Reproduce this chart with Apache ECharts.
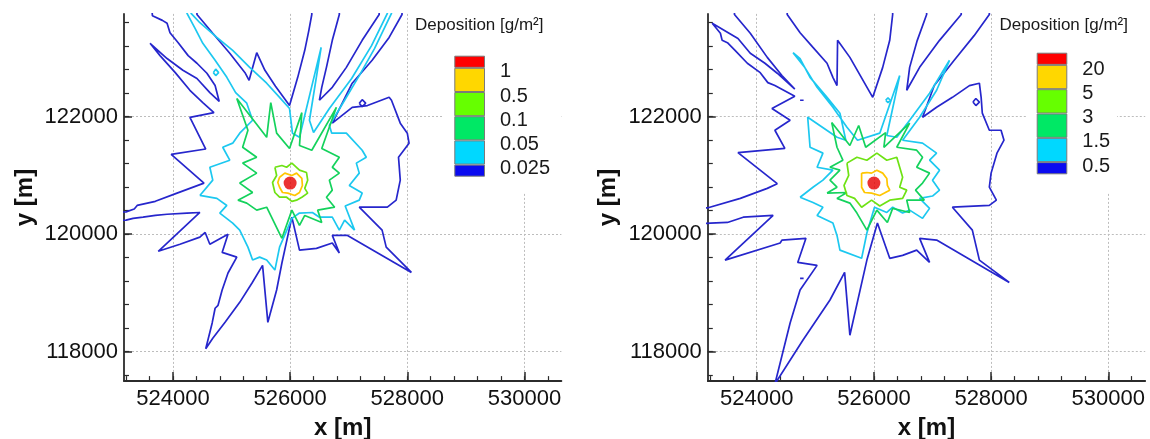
<!DOCTYPE html>
<html>
<head>
<meta charset="utf-8">
<script src="https://cdn.jsdelivr.net/npm/echarts@6/dist/echarts.min.js"></script>
<style>
html, body { margin: 0; padding: 0; background: #fff; }
#chart { width: 1150px; height: 439px; }
</style>
</head>
<body>
<div id="chart"></div>
<script>
// ---- axes ----
const X_RANGE = [523165, 530630];
const Y_RANGE = [117500, 123750];
const xMajorTicks = [524000, 526000, 528000, 530000];
const yMajorTicks = [118000, 120000, 122000];
const xMinorTicks = [523200, 523600, 524000, 524400, 524800, 525200, 525600, 526000, 526400,
  526800, 527200, 527600, 528000, 528400, 528800, 529200, 529600, 530000, 530400];
const yMinorTicks = [117600, 118000, 118400, 118800, 119200, 119600, 120000, 120400, 120800,
  121200, 121600, 122000, 122400, 122800, 123200, 123600];

// ---- colour scale (bands listed bottom to top) ----
const bandColors = ['#0a0af0', '#00d8ff', '#00e865', '#66ff00', '#ffd700', '#ff0000'];
const bandSizes = [0.5, 1, 1, 1, 1, 0.5];
const leftLevels = ['0.025', '0.05', '0.1', '0.5', '1'];
const rightLevels = ['0.5', '1.5', '3', '5', '20'];
const legendTitle = 'Deposition [g/m\u00b2]';

// ---- release point ----
const leftSource = [[526000, 120870]];
const rightSource = [[526000, 120870]];

// ---- left map: contour lines [x, y] in metres ----
const leftBlue = [
  [522930,120370],[523200,120380],[523340,120430],[523390,120490],[523700,120560],[524070,120700],[524530,120870],
  [523970,121360],[524560,121450],[524290,121990],[524700,122070],
  [524510,122240],[524290,122450],[524040,122750],[523780,123040],[523610,123250],
  [523900,122990],[524170,122790],[524410,122650],[524630,122410],[524790,122260],
  [524720,122530],[524580,122740],[524410,122910],[524260,123040],[524090,123260],[523950,123430],[523900,123590],[523820,123640],[523650,123720],[523610,124200],
  [524410,124200],[524410,123740],[524680,123420],[524970,123080],[525230,122750],[525300,122620],[525430,123090],[525570,122790],[525750,122520],[525990,122190],
  [526130,122670],[526250,123130],[526320,123470],[526370,123740],[526370,124200],
  [526840,124200],[526840,123740],[526720,123300],[526620,122840],[526540,122500],[526500,122280],
  [526720,122500],[526960,122840],[527230,123300],[527520,123740],[527520,124200],
  [527910,124200],[527910,123740],[527690,123350],[527400,122960],[527060,122570],[526720,121890],
  [527060,122160],[527320,122190],[527690,122330],[527730,122280],[527880,121890],[528000,121720],[528030,121550],[527850,121310],[527880,120920],[527810,120580],[527660,120460],[527180,120460],
  [527570,120070],[527640,119780],[528070,119350],
  [526980,119980],[526720,119980],[526840,119680],[526720,119850],[526450,119760],[526160,119730],[526030,120290],
  [525860,119510],[525770,119050],[525620,118500],[525530,119470],[525350,119170],[525140,118840],[524890,118500],[524680,118230],[524560,118050],
  [524670,118490],[524720,118740],[524770,118790],[524840,119050],[524940,119340],[525090,119610],
  [524840,119690],[524940,120000],[524630,119830],[524550,120030],[524460,119950],[524120,119830],[523750,119710],
  [524460,120370],[524240,120360],[523900,120340],[523700,120320],[523490,120290],[523320,120270],[523200,120240],[522930,120230]
];
const leftBlueIsland = [[527180,122230],[527230,122290],[527290,122230],[527230,122170],[527180,122230]];
const leftCyan = [
  [524460,120660],[524680,120920],[524630,121140],[524970,121260],[524850,121480],[525020,121550],[525140,121720],
  [525360,121940],[525260,122230],[525070,122410],[524920,122670],[524720,122960],[524510,123250],[524380,123500],
  [524240,123760],[524240,124200],[524310,124200],[524310,123760],[524460,123600],[524750,123350],[525020,123130],
  [525310,122840],[525600,122570],[525820,122330],[525990,122140],[526040,121720],[526160,121650],[526530,123180],
  [526330,121940],[526400,121730],[526670,122140],[527050,122650],[527390,123210],[527660,123760],[527660,124200],
  [527730,124200],[527730,123760],[527440,123160],[527180,122700],[526930,122280],[526670,121850],[526710,121720],
  [526960,121720],[527230,121430],[527300,121310],[527130,121210],[527180,121040],[527010,120830],[527230,120700],
  [527180,120580],[526940,120480],[527100,120070],[526930,120240],[526840,120070],[526720,120290],[526500,120290],
  [526380,120370],[526160,120360],[526030,120270],[525820,119780],[525740,119390],[525600,119560],[525480,119610],
  [525360,119560],[525280,119780],[525140,120070],[525020,120190],[524800,120360],[524920,120490],[524750,120610],
  [524460,120660]
];
const leftCyanIsland = [[524690,122750],[524730,122810],[524780,122750],[524730,122700],[524690,122750]];
const leftGreen = [
  [525860,119930],[525600,120460],[525430,120410],[525260,120530],[525110,120580],[525360,120710],[525140,120870],
  [525430,121040],[525190,121210],[525430,121310],[525190,121480],[525280,121770],[525090,122310],[525600,121650],
  [525670,122240],[525770,121720],[525990,121460],[526200,122070],[526160,121510],[526370,121430],[526790,122160],
  [526540,121460],[526840,121310],[526720,121140],[526840,121040],[526670,120920],[526720,120750],[526620,120630],
  [526760,120460],[526470,120410],[526540,120200],[526250,120320],[526160,120150],[526030,120410],[525860,119930]
];
const leftLime = [
  [525740,121140],[525860,121170],[525940,121140],[526030,121210],[526160,121090],[526280,121050],[526300,120920],
  [526250,120780],[526300,120700],[526200,120630],[526110,120580],[526030,120560],[525940,120630],[525820,120630],
  [525740,120710],[525700,120880],[525770,121000],[525740,121140]
];
const leftYellow = [
  [525820,120970],[525910,121040],[526030,121000],[526110,121040],[526200,120950],[526210,120830],[526160,120710],
  [526080,120660],[525960,120700],[525870,120710],[525820,120800],[525790,120880],[525820,120970]
];

// ---- right map: contour lines [x, y] in metres ----
const rightBlue = [
  [522870,120450],[523170,120450],[523720,120610],[524180,120780],[524350,120860],
  [523680,121390],[524480,121460],[524310,121770],[524570,121940],[524260,122140],[524650,122350],
  [524310,122530],[524190,122580],[524060,122750],[523840,122910],[523630,123130],[523500,123260],[523410,123300],[523380,123420],[523240,123590],
  [523680,123330],[523890,123080],[524140,122910],[524350,122740],[524650,122470],
  [524430,122700],[524180,123010],[523890,123420],[523620,123740],[523620,124200],
  [524520,124200],[524520,123740],[524740,123430],[524960,123180],[525200,122910],[525300,122670],[525370,122530],[525380,123300],[525590,123010],[525980,122330],
  [526150,122840],[526270,123300],[526320,123740],[526320,124200],
  [526900,124200],[526900,123740],[526740,123300],[526610,122840],[526560,122450],[526780,122840],[527120,123300],[527490,123740],[527490,124200],
  [527970,124200],[527970,123740],[527710,123380],[527370,122960],[527030,122530],[526830,121990],
  [527070,122160],[527340,122330],[527630,122530],[527800,122570],[527830,122330],[527850,122060],[527970,121770],[528170,121770],[528220,121600],[528100,121380],[528000,121040],[527970,120800],[528090,120580],[527970,120490],[527340,120460],
  [527680,120070],[527800,119560],[528310,119180],
  [527070,119900],[526780,119930],[526950,119520],[526730,119730],[526490,119640],[526270,119590],[526060,120190],
  [525880,119560],[525590,118280],[525500,119350],[525250,118880],[524790,118200],[524310,117450],
  [524570,118490],[524740,119050],[525030,119470],[524700,119520],[524840,119930],[524430,119900],[524400,119850],[523460,119560],
  [524280,120320],[523770,120290],[523500,120200],[523210,120190],[522870,120170]
];
const rightBlueIslands = [
  [[527690,122250],[527740,122310],[527800,122250],[527740,122190],[527690,122250]],
  [[524740,122280],[524770,122310],[524800,122280],[524770,122250],[524740,122280]],
  [[524740,119250],[524770,119280],[524800,119250],[524770,119220],[524740,119250]]
];
const rightCyan = [
  [524740,120630],[524960,120800],[525130,120920],[525300,121090],[525030,121140],[525130,121380],[524910,121480],
  [524870,121990],[525370,121650],[525520,121600],[525420,122060],[525200,122330],[524910,122670],[524740,122990],
  [524620,123090],[524820,122840],[525030,122500],[525300,122160],[525540,121820],[525720,121600],[526100,121720],
  [526440,122700],[526350,122280],[526220,121680],[526390,121650],[526610,121940],[526950,122400],[527290,122960],
  [527070,122450],[526780,121990],[526490,121600],[526830,121550],[527070,121380],[526950,121260],[527120,121090],
  [527000,120920],[527120,120750],[527000,120650],[526780,120610],[526950,120440],[526830,120270],[526610,120410],
  [526490,120360],[526320,120460],[526220,120370],[526010,120460],[525880,120020],[525790,119590],[525420,119730],
  [525370,119980],[525300,120190],[525030,120320],[525130,120460],[524960,120540],[524740,120630]
];
const rightCyanIsland = [[526200,122280],[526240,122320],[526280,122280],[526240,122240],[526200,122280]];
const rightGreen = [
  [525200,120700],[525370,120800],[525250,120920],[525420,121090],[525250,121140],[525470,121260],[525370,121480],
  [525280,121900],[525590,121510],[525740,121850],[525860,121480],[526200,121730],[526170,121480],[526610,121890],
  [526390,121480],[526730,121430],[526830,121310],[526730,121140],[526950,121040],[526830,120870],[526710,120750],
  [526860,120580],[526560,120580],[526610,120370],[526320,120440],[526230,120200],[526050,120410],[525880,120070],
  [525710,120360],[525590,120530],[525370,120610],[525540,120710],[525200,120700]
];
const rightLime = [
  [525540,121210],[525710,121310],[525880,121260],[526050,121380],[526220,121260],[526390,121310],[526440,121140],
  [526490,120970],[526440,120800],[526560,120750],[526490,120610],[526270,120580],[526100,120480],[525960,120580],
  [525790,120460],[525670,120610],[525540,120660],[525490,120830],[525570,121000],[525540,121210]
];
const rightYellow = [
  [525790,121040],[525880,121050],[525960,121040],[526050,121090],[526150,121040],[526220,120950],[526230,120830],
  [526270,120750],[526180,120700],[526100,120660],[525960,120700],[525840,120710],[525790,120800],[525790,120920],
  [525790,121040]
];

// ---- styling ----
const FONT = "'Liberation Sans', Arial, Helvetica, sans-serif";
const AXIS_COLOR = '#2b2b2b';
const lineColor = { blue: '#2626cc', cyan: '#1cc8f0', green: '#14d25c', lime: '#6ee214', yellow: '#ffc600' };
const LINE_W = 1.7;

const plotGrids = [
  { left: 124, top: 13.9, width: 437.4, height: 367.2 },
  { left: 707.8, top: 13.9, width: 437.4, height: 367.2 }
];
const barGrids = [
  { left: 454.3, top: 55.7, width: 30.7, height: 121 },
  { left: 1036.7, top: 52.7, width: 30.6, height: 121.6 }
];
// colour-bar labels sit a little below each band boundary
const BAR_LABEL_SHIFT = 0.17;
const legendTitleLeft = [415, 999.5];
const legendBoxes = [
  [{ x: 412, y: 13, w: 145, h: 25 }, { x: 443, y: 38, w: 118, h: 154 }],
  [{ x: 996, y: 13, w: 140, h: 25 }, { x: 1027, y: 38, w: 90, h: 154 }]
];

const nameStyle = { fontSize: 24, fontWeight: 'bold', color: '#111', fontFamily: FONT };
const tickLabelStyle = { fontSize: 22, color: '#111', fontFamily: FONT };

function mainXAxis(g) {
  return {
    type: 'value', gridIndex: g, min: X_RANGE[0], max: X_RANGE[1], position: 'bottom',
    axisLine: { onZero: false, lineStyle: { color: AXIS_COLOR, width: 1.8 } },
    axisTick: { inside: true, length: 9, customValues: xMajorTicks, lineStyle: { color: AXIS_COLOR, width: 1.5 } },
    axisLabel: { customValues: xMajorTicks, margin: 7, formatter: v => String(v), ...tickLabelStyle },
    splitLine: { show: true, lineStyle: { type: [2, 2], color: '#bdbdbd', width: 1 } },
    name: 'x [m]', nameLocation: 'middle', nameGap: 35, nameTextStyle: nameStyle
  };
}
function minorXAxis(g) {
  return {
    type: 'value', gridIndex: g, min: X_RANGE[0], max: X_RANGE[1], position: 'bottom',
    axisLine: { show: false, onZero: false },
    axisTick: { inside: true, length: 5, customValues: xMinorTicks, lineStyle: { color: AXIS_COLOR, width: 1.2 } },
    axisLabel: { show: false }, splitLine: { show: false }
  };
}
function mainYAxis(g) {
  return {
    type: 'value', gridIndex: g, min: Y_RANGE[0], max: Y_RANGE[1], position: 'left',
    axisLine: { onZero: false, lineStyle: { color: AXIS_COLOR, width: 1.8 } },
    axisTick: { inside: true, length: 8, customValues: yMajorTicks, lineStyle: { color: AXIS_COLOR, width: 1.5 } },
    axisLabel: { customValues: yMajorTicks, margin: 6, formatter: v => String(v), ...tickLabelStyle },
    splitLine: { show: true, lineStyle: { type: [2, 2], color: '#bdbdbd', width: 1 } },
    name: 'y [m]', nameLocation: 'middle', nameGap: 87, nameTextStyle: nameStyle
  };
}
function minorYAxis(g) {
  return {
    type: 'value', gridIndex: g, min: Y_RANGE[0], max: Y_RANGE[1], position: 'left',
    axisLine: { show: false, onZero: false },
    axisTick: { inside: true, length: 5, customValues: yMinorTicks, lineStyle: { color: AXIS_COLOR, width: 1.2 } },
    axisLabel: { show: false }, splitLine: { show: false }
  };
}
function barXAxis(g) {
  return { type: 'category', gridIndex: g, data: ['band'], show: false };
}
function barYAxis(g, labels) {
  // band boundaries are at 0.5, 1.5, ... 4.5 on this axis
  const boundaries = labels.map((_, i) => i + 0.5);
  return {
    type: 'value', gridIndex: g, min: 0, max: 5, position: 'right', z: 6,
    axisLine: { show: false }, axisTick: { show: false }, splitLine: { show: false },
    axisLabel: {
      customValues: boundaries.map(b => b - BAR_LABEL_SHIFT), margin: 15,
      formatter: v => labels[Math.round(v + BAR_LABEL_SHIFT - 0.5)],
      fontSize: 20, color: '#1a1a1a', fontFamily: FONT
    }
  };
}

const series = [];
function contour(panel, data, color) {
  series.push({
    type: 'line', xAxisIndex: panel * 2, yAxisIndex: panel * 2, data: data,
    symbol: 'none', showSymbol: false, clip: true, silent: true, animation: false, z: 3,
    lineStyle: { color: color, width: LINE_W }
  });
}
function source(panel, data) {
  series.push({
    type: 'scatter', xAxisIndex: panel * 2, yAxisIndex: panel * 2, data: data,
    symbol: 'circle', symbolSize: 13, silent: true, animation: false, z: 4,
    itemStyle: { color: '#e60000' }
  });
}
function colorBar(panel) {
  bandSizes.forEach((size, i) => {
    series.push({
      type: 'bar', xAxisIndex: 4 + panel, yAxisIndex: 4 + panel, stack: 'bar' + panel,
      data: [size], barWidth: '100%', silent: true, animation: false, z: 6,
      itemStyle: { color: bandColors[i], borderColor: '#7a7a7a', borderWidth: 1 }
    });
  });
}

// left map
contour(0, leftBlue, lineColor.blue);
contour(0, leftBlueIsland, lineColor.blue);
contour(0, leftCyan, lineColor.cyan);
contour(0, leftCyanIsland, lineColor.cyan);
contour(0, leftGreen, lineColor.green);
contour(0, leftLime, lineColor.lime);
contour(0, leftYellow, lineColor.yellow);
source(0, leftSource);
// right map
contour(1, rightBlue, lineColor.blue);
rightBlueIslands.forEach(loop => contour(1, loop, lineColor.blue));
contour(1, rightCyan, lineColor.cyan);
contour(1, rightCyanIsland, lineColor.cyan);
contour(1, rightGreen, lineColor.green);
contour(1, rightLime, lineColor.lime);
contour(1, rightYellow, lineColor.yellow);
source(1, rightSource);
// colour bars
colorBar(0);
colorBar(1);

const graphics = [];
legendBoxes.forEach(boxes => boxes.forEach(b => graphics.push({
  type: 'rect', z: 1, silent: true,
  shape: { x: b.x, y: b.y, width: b.w, height: b.h },
  style: { fill: '#fff' }
})));

const option = {
  animation: false,
  backgroundColor: '#fff',
  grid: [...plotGrids, ...barGrids].map(g => ({ ...g, outerBoundsMode: 'none', containLabel: false })),
  xAxis: [mainXAxis(0), minorXAxis(0), mainXAxis(1), minorXAxis(1), barXAxis(2), barXAxis(3)],
  yAxis: [mainYAxis(0), minorYAxis(0), mainYAxis(1), minorYAxis(1), barYAxis(2, leftLevels), barYAxis(3, rightLevels)],
  title: legendTitleLeft.map(x => ({
    text: legendTitle, left: x, top: 15, padding: 0, z: 6,
    textStyle: { fontSize: 17, lineHeight: 20, fontWeight: 'normal', color: '#1a1a1a', fontFamily: FONT }
  })),
  graphic: graphics,
  series: series
};

const chart = echarts.init(document.getElementById('chart'), null, { renderer: 'canvas' });
chart.setOption(option);
</script>
</body>
</html>
